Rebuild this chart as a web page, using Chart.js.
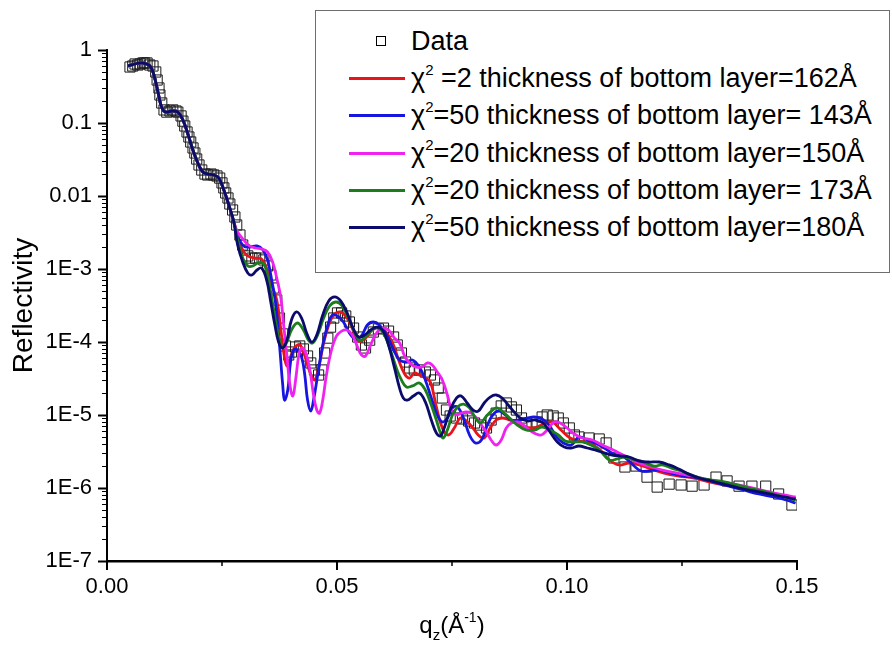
<!DOCTYPE html>
<html>
<head>
<meta charset="utf-8">
<title>Reflectivity</title>
<script src="https://cdn.jsdelivr.net/npm/chart.js@4.4.1/dist/chart.umd.min.js"></script>
<style>
  body { margin: 0; background: #fff; }
  #wrap { position: relative; width: 892px; height: 648px; font-family: Arial, "Liberation Sans", sans-serif; color: #000; }
  #chart { position: absolute; left: 0; top: 0; }
  #legend { position: absolute; left: 315px; top: 10px; width: 573px; height: 261px; border: 1.5px solid #6e6e6e; background: #fff; }
  .row { position: absolute; left: 0; height: 30px; line-height: 30px; font-size: 27px; white-space: nowrap; }
  .sample { position: absolute; left: 33px; top: 14px; width: 56px; height: 0; border-top: 3px solid #000; }
  .box { position: absolute; left: 60px; top: 10px; width: 8px; height: 8px; border: 1px solid #000; }
  .label { position: absolute; left: 95px; top: 0; }
  .label sup { font-size: 15px; vertical-align: 0; position: relative; top: -12px; }
  #xTitle { position: absolute; left: 107px; width: 690px; top: 611px; text-align: center; font-size: 24px; }
  #xTitle sub { font-size: 15px; vertical-align: 0; position: relative; top: 7px; }
  #xTitle sup { font-size: 14px; vertical-align: 0; position: relative; top: -11px; }
</style>
</head>
<body>
<div id="wrap">
  <canvas id="chart" width="892" height="648"></canvas>
  <div id="legend"></div>
  <div id="xTitle">q<sub>z</sub>(Å<sup>-1</sup>)</div>
</div>
<script>
// measured reflectivity
const dataQ = [0.0050, 0.0056, 0.0061, 0.0067, 0.0072, 0.0078, 0.0082, 0.0087, 0.0093, 0.0100, 0.0106, 0.0109, 0.0113, 0.0115, 0.0119, 0.0124, 0.0130, 0.0137, 0.0143, 0.0150, 0.0154, 0.0161, 0.0165, 0.0169, 0.0174, 0.0178, 0.0182, 0.0187, 0.0191, 0.0195, 0.0200, 0.0206, 0.0213, 0.0219, 0.0226, 0.0232, 0.0239, 0.0245, 0.0250, 0.0254, 0.0258, 0.0263, 0.0267, 0.0273, 0.0278, 0.0282, 0.0289, 0.0295, 0.0299, 0.0306, 0.0315, 0.0323, 0.0332, 0.0341, 0.0349, 0.0356, 0.0362, 0.0369, 0.0375, 0.0382, 0.0388, 0.0395, 0.0401, 0.0410, 0.0419, 0.0427, 0.0436, 0.0443, 0.0451, 0.0460, 0.0467, 0.0473, 0.0480, 0.0486, 0.0493, 0.0501, 0.0510, 0.0519, 0.0527, 0.0536, 0.0545, 0.0553, 0.0562, 0.0571, 0.0579, 0.0590, 0.0601, 0.0612, 0.0623, 0.0631, 0.0640, 0.0649, 0.0658, 0.0668, 0.0679, 0.0692, 0.0703, 0.0712, 0.0720, 0.0729, 0.0738, 0.0746, 0.0760, 0.0773, 0.0786, 0.0799, 0.0812, 0.0825, 0.0835, 0.0846, 0.0857, 0.0868, 0.0879, 0.0890, 0.0901, 0.0911, 0.0924, 0.0935, 0.0946, 0.0957, 0.0970, 0.0981, 0.0992, 0.1005, 0.1016, 0.1026, 0.1048, 0.1070, 0.1085, 0.1102, 0.1126, 0.1150, 0.1174, 0.1196, 0.1222, 0.1248, 0.1272, 0.1298, 0.1324, 0.1348, 0.1374, 0.1402, 0.1432, 0.1460, 0.1489];
const dataR = [0.585, 0.604, 0.643, 0.623, 0.643, 0.664, 0.664, 0.664, 0.623, 0.604, 0.500, 0.388, 0.302, 0.242, 0.188, 0.151, 0.141, 0.146, 0.151, 0.146, 0.141, 0.125, 0.106, 0.0910, 0.0753, 0.0643, 0.0549, 0.0455, 0.0388, 0.0321, 0.0266, 0.0227, 0.0200, 0.0194, 0.0200, 0.0194, 0.0188, 0.0176, 0.0151, 0.0129, 0.0110, 0.00939, 0.00777, 0.00643, 0.00516, 0.00401, 0.00292, 0.00213, 0.00182, 0.00151, 0.00141, 0.00141, 0.00141, 0.00133, 0.00110, 8.28e-4, 5.49e-4, 3.76e-4, 2.13e-4, 1.29e-4, 8.82e-5, 6.64e-5, 7.29e-5, 8.54e-5, 8.82e-5, 8.02e-5, 6.43e-5, 5.16e-5, 4.14e-5, 3.53e-5, 4.14e-5, 7.07e-5, 1.13e-4, 1.60e-4, 2.13e-4, 2.50e-4, 2.50e-4, 2.27e-4, 1.88e-4, 1.55e-4, 1.17e-4, 9.10e-5, 8.28e-5, 1.06e-4, 1.37e-4, 1.51e-4, 1.55e-4, 1.41e-4, 1.17e-4, 9.10e-5, 7.07e-5, 5.32e-5, 4.41e-5, 4.14e-5, 4.14e-5, 3.88e-5, 3.53e-5, 3.02e-5, 2.34e-5, 1.71e-5, 1.17e-5, 9.69e-6, 9.10e-6, 8.82e-6, 8.28e-6, 7.77e-6, 7.29e-6, 6.64e-6, 8.54e-6, 1.06e-5, 1.33e-5, 1.46e-5, 1.29e-5, 1.17e-5, 9.10e-6, 7.77e-6, 7.29e-6, 8.02e-6, 9.39e-6, 1.00e-5, 9.69e-6, 9.10e-6, 7.77e-6, 6.64e-6, 5.32e-6, 5.00e-6, 4.84e-6, 4.69e-6, 4.14e-6, 2.58e-6, 1.94e-6, 2.00e-6, 1.41e-6, 1.03e-6, 1.13e-6, 1.10e-6, 1.06e-6, 1.10e-6, 1.41e-6, 1.25e-6, 1.06e-6, 1.06e-6, 1.06e-6, 8.28e-7, 5.85e-7];

// below the critical edge all fits coincide
const fitLowQ = [0.00456, 0.00608, 0.00760, 0.00933, 0.01020, 0.01107, 0.01194, 0.01281, 0.01411, 0.01541, 0.01650, 0.01758, 0.01867, 0.01975, 0.02084, 0.02193, 0.02323, 0.02431, 0.02540, 0.02648, 0.02757];
const fitLowR = [0.604, 0.643, 0.664, 0.604, 0.455, 0.266, 0.160, 0.141, 0.146, 0.141, 0.110, 0.0707, 0.0427, 0.0283, 0.0213, 0.0200, 0.0194, 0.0176, 0.0121, 0.00753, 0.00441];

// fit, bottom layer 162 A
const fit162Q = [0.0284, 0.0295, 0.0306, 0.0321, 0.0336, 0.0347, 0.0358, 0.0369, 0.0378, 0.0384, 0.0391, 0.0397, 0.0406, 0.0419, 0.0430, 0.0441, 0.0451, 0.0460, 0.0471, 0.0482, 0.0493, 0.0506, 0.0519, 0.0532, 0.0547, 0.0562, 0.0577, 0.0592, 0.0605, 0.0621, 0.0634, 0.0647, 0.0658, 0.0668, 0.0679, 0.0692, 0.0703, 0.0716, 0.0729, 0.0742, 0.0755, 0.0768, 0.0781, 0.0794, 0.0807, 0.0820, 0.0833, 0.0846, 0.0859, 0.0875, 0.0896, 0.0924, 0.0950, 0.0968, 0.0987, 0.1007, 0.1026, 0.1048, 0.1070, 0.1092, 0.1113, 0.1135, 0.1157, 0.1183, 0.1211, 0.1243, 0.1276, 0.1309, 0.1341, 0.1374, 0.1406, 0.1439, 0.1471, 0.1497];
const fit162R = [2.83e-3, 1.82e-3, 1.51e-3, 1.41e-3, 1.37e-3, 1.03e-3, 6.04e-4, 3.76e-4, 1.46e-4, 7.29e-5, 4.69e-5, 5.67e-5, 8.02e-5, 9.10e-5, 6.43e-5, 3.88e-5, 3.02e-5, 4.41e-5, 9.69e-5, 1.71e-4, 2.34e-4, 2.58e-4, 2.27e-4, 1.60e-4, 1.03e-4, 1.13e-4, 1.46e-4, 1.60e-4, 1.41e-4, 9.69e-5, 5.67e-5, 3.65e-5, 3.21e-5, 3.76e-5, 3.53e-5, 3.21e-5, 2.83e-5, 1.29e-5, 6.64e-6, 5.32e-6, 6.64e-6, 9.10e-6, 8.28e-6, 6.85e-6, 5.32e-6, 4.84e-6, 6.64e-6, 8.54e-6, 9.10e-6, 8.54e-6, 7.53e-6, 6.64e-6, 7.53e-6, 8.02e-6, 6.23e-6, 4.84e-6, 4.41e-6, 4.14e-6, 3.42e-6, 2.42e-6, 2.07e-6, 2.20e-6, 2.07e-6, 1.82e-6, 1.60e-6, 1.46e-6, 1.37e-6, 1.21e-6, 1.10e-6, 1.03e-6, 9.39e-7, 8.54e-7, 7.77e-7, 7.29e-7];

// fit, bottom layer 143 A
const fit143Q = [0.0284, 0.0297, 0.0310, 0.0326, 0.0339, 0.0349, 0.0358, 0.0367, 0.0375, 0.0382, 0.0386, 0.0393, 0.0399, 0.0406, 0.0414, 0.0423, 0.0430, 0.0436, 0.0443, 0.0449, 0.0458, 0.0469, 0.0480, 0.0490, 0.0501, 0.0514, 0.0527, 0.0540, 0.0553, 0.0566, 0.0579, 0.0592, 0.0608, 0.0623, 0.0636, 0.0651, 0.0664, 0.0679, 0.0692, 0.0705, 0.0718, 0.0729, 0.0740, 0.0751, 0.0762, 0.0775, 0.0788, 0.0801, 0.0814, 0.0827, 0.0840, 0.0853, 0.0866, 0.0879, 0.0896, 0.0914, 0.0929, 0.0946, 0.0961, 0.0977, 0.0992, 0.1009, 0.1026, 0.1044, 0.1061, 0.1081, 0.1102, 0.1124, 0.1146, 0.1161, 0.1178, 0.1200, 0.1226, 0.1254, 0.1287, 0.1319, 0.1352, 0.1384, 0.1417, 0.1450, 0.1476, 0.1497];
const fit143R = [2.83e-3, 2.07e-3, 2.00e-3, 2.07e-3, 1.82e-3, 1.33e-3, 7.07e-4, 3.21e-4, 9.10e-5, 2.58e-5, 1.60e-5, 2.20e-5, 5.32e-5, 7.77e-5, 7.77e-5, 6.23e-5, 3.53e-5, 1.60e-5, 1.13e-5, 1.60e-5, 3.53e-5, 9.10e-5, 1.71e-4, 2.34e-4, 2.27e-4, 1.88e-4, 1.33e-4, 1.10e-4, 1.21e-4, 1.71e-4, 1.88e-4, 1.71e-4, 1.25e-4, 7.77e-5, 5.67e-5, 5.32e-5, 5.67e-5, 4.55e-5, 3.02e-5, 1.71e-5, 1.00e-5, 8.02e-6, 9.10e-6, 1.25e-5, 1.29e-5, 9.10e-6, 5.32e-6, 4.14e-6, 4.55e-6, 7.29e-6, 1.03e-5, 1.13e-5, 1.00e-5, 8.54e-6, 8.54e-6, 9.10e-6, 9.39e-6, 8.82e-6, 7.29e-6, 5.00e-6, 4.14e-6, 3.88e-6, 5.00e-6, 4.55e-6, 4.14e-6, 3.53e-6, 2.92e-6, 2.66e-6, 2.00e-6, 1.71e-6, 1.71e-6, 1.76e-6, 1.60e-6, 1.46e-6, 1.37e-6, 1.21e-6, 1.06e-6, 9.39e-7, 8.28e-7, 7.53e-7, 6.85e-7, 6.23e-7];

// fit, bottom layer 150 A
const fit150Q = [0.0284, 0.0297, 0.0310, 0.0323, 0.0336, 0.0349, 0.0360, 0.0369, 0.0378, 0.0384, 0.0391, 0.0397, 0.0404, 0.0410, 0.0417, 0.0423, 0.0432, 0.0441, 0.0449, 0.0456, 0.0462, 0.0469, 0.0477, 0.0488, 0.0499, 0.0510, 0.0521, 0.0532, 0.0543, 0.0553, 0.0562, 0.0573, 0.0586, 0.0599, 0.0612, 0.0625, 0.0636, 0.0647, 0.0658, 0.0671, 0.0684, 0.0697, 0.0707, 0.0718, 0.0729, 0.0740, 0.0749, 0.0760, 0.0770, 0.0781, 0.0792, 0.0803, 0.0814, 0.0825, 0.0835, 0.0846, 0.0857, 0.0868, 0.0879, 0.0892, 0.0905, 0.0918, 0.0933, 0.0944, 0.0957, 0.0972, 0.0985, 0.1000, 0.1016, 0.1033, 0.1055, 0.1076, 0.1096, 0.1113, 0.1135, 0.1157, 0.1178, 0.1207, 0.1239, 0.1272, 0.1309, 0.1352, 0.1395, 0.1439, 0.1471, 0.1497];
const fit150R = [3.21e-3, 2.50e-3, 2.07e-3, 1.94e-3, 1.88e-3, 1.71e-3, 1.25e-3, 7.53e-4, 4.01e-4, 1.71e-4, 6.64e-5, 2.74e-5, 1.82e-5, 3.02e-5, 6.64e-5, 8.28e-5, 7.07e-5, 4.14e-5, 1.88e-5, 1.17e-5, 1.06e-5, 1.60e-5, 3.53e-5, 7.77e-5, 1.21e-4, 1.41e-4, 1.46e-4, 1.29e-4, 9.10e-5, 6.64e-5, 6.43e-5, 9.10e-5, 1.33e-4, 1.55e-4, 1.46e-4, 1.13e-4, 9.69e-5, 6.43e-5, 5.16e-5, 4.55e-5, 4.55e-5, 5.16e-5, 4.84e-5, 3.88e-5, 3.02e-5, 1.88e-5, 1.17e-5, 1.00e-5, 1.06e-5, 1.10e-5, 1.06e-5, 9.10e-6, 7.29e-6, 5.85e-6, 4.55e-6, 3.88e-6, 4.55e-6, 6.64e-6, 7.77e-6, 8.02e-6, 7.29e-6, 6.23e-6, 5.49e-6, 5.32e-6, 6.23e-6, 8.02e-6, 7.77e-6, 6.64e-6, 5.49e-6, 4.84e-6, 4.55e-6, 3.88e-6, 3.42e-6, 3.02e-6, 2.58e-6, 2.20e-6, 2.00e-6, 1.76e-6, 1.60e-6, 1.46e-6, 1.29e-6, 1.17e-6, 1.03e-6, 8.82e-7, 8.02e-7, 7.53e-7];

// fit, bottom layer 173 A
const fit173Q = [0.0284, 0.0295, 0.0306, 0.0317, 0.0328, 0.0339, 0.0349, 0.0358, 0.0367, 0.0375, 0.0382, 0.0391, 0.0401, 0.0414, 0.0427, 0.0438, 0.0447, 0.0458, 0.0471, 0.0484, 0.0497, 0.0510, 0.0525, 0.0538, 0.0549, 0.0562, 0.0575, 0.0590, 0.0603, 0.0616, 0.0629, 0.0640, 0.0651, 0.0664, 0.0679, 0.0692, 0.0705, 0.0716, 0.0725, 0.0731, 0.0740, 0.0751, 0.0762, 0.0775, 0.0788, 0.0801, 0.0812, 0.0825, 0.0838, 0.0848, 0.0861, 0.0875, 0.0892, 0.0911, 0.0929, 0.0946, 0.0963, 0.0981, 0.0996, 0.1013, 0.1033, 0.1052, 0.1070, 0.1092, 0.1109, 0.1124, 0.1139, 0.1161, 0.1189, 0.1207, 0.1226, 0.1248, 0.1269, 0.1298, 0.1330, 0.1363, 0.1395, 0.1432, 0.1465, 0.1497];
const fit173R = [2.50e-3, 1.41e-3, 1.10e-3, 1.10e-3, 1.21e-3, 1.21e-3, 8.28e-4, 4.01e-4, 1.88e-4, 1.06e-4, 8.54e-5, 1.00e-4, 1.46e-4, 1.82e-4, 1.46e-4, 1.06e-4, 9.69e-5, 1.25e-4, 2.13e-4, 3.11e-4, 3.53e-4, 3.21e-4, 2.13e-4, 1.37e-4, 1.06e-4, 1.17e-4, 1.46e-4, 1.55e-4, 1.25e-4, 7.77e-5, 4.41e-5, 3.02e-5, 2.42e-5, 2.50e-5, 2.74e-5, 2.20e-5, 1.37e-5, 8.54e-6, 5.67e-6, 4.84e-6, 6.23e-6, 1.00e-5, 1.29e-5, 1.41e-5, 1.25e-5, 9.10e-6, 7.77e-6, 9.69e-6, 1.17e-5, 1.25e-5, 1.10e-5, 9.10e-6, 7.29e-6, 6.23e-6, 6.23e-6, 6.85e-6, 6.23e-6, 5.32e-6, 4.41e-6, 4.27e-6, 4.27e-6, 3.88e-6, 3.32e-6, 2.42e-6, 2.50e-6, 2.66e-6, 2.50e-6, 2.34e-6, 2.00e-6, 2.07e-6, 1.88e-6, 1.71e-6, 1.51e-6, 1.33e-6, 1.25e-6, 1.13e-6, 1.00e-6, 8.82e-7, 7.77e-7, 6.85e-7];

// fit, bottom layer 180 A
const fit180Q = [0.0284, 0.0295, 0.0306, 0.0315, 0.0326, 0.0336, 0.0347, 0.0356, 0.0365, 0.0373, 0.0382, 0.0391, 0.0401, 0.0412, 0.0423, 0.0434, 0.0445, 0.0456, 0.0469, 0.0482, 0.0495, 0.0508, 0.0521, 0.0534, 0.0547, 0.0560, 0.0573, 0.0586, 0.0599, 0.0612, 0.0625, 0.0636, 0.0644, 0.0653, 0.0666, 0.0679, 0.0692, 0.0705, 0.0716, 0.0725, 0.0733, 0.0746, 0.0760, 0.0770, 0.0783, 0.0796, 0.0807, 0.0820, 0.0833, 0.0846, 0.0859, 0.0872, 0.0885, 0.0898, 0.0914, 0.0931, 0.0948, 0.0963, 0.0979, 0.0994, 0.1009, 0.1026, 0.1044, 0.1061, 0.1081, 0.1098, 0.1118, 0.1135, 0.1157, 0.1178, 0.1200, 0.1222, 0.1243, 0.1265, 0.1287, 0.1313, 0.1341, 0.1374, 0.1406, 0.1439, 0.1471, 0.1497];
const fit180R = [2.13e-3, 1.25e-3, 8.82e-4, 8.28e-4, 9.69e-4, 1.03e-3, 7.07e-4, 3.53e-4, 1.71e-4, 1.00e-4, 8.28e-5, 1.06e-4, 2.00e-4, 2.58e-4, 2.13e-4, 1.33e-4, 1.00e-4, 1.25e-4, 2.34e-4, 3.65e-4, 4.14e-4, 3.65e-4, 2.58e-4, 1.60e-4, 1.17e-4, 1.25e-4, 1.46e-4, 1.60e-4, 1.46e-4, 9.10e-5, 4.41e-5, 2.34e-5, 1.71e-5, 1.60e-5, 1.82e-5, 2.00e-5, 1.51e-5, 8.54e-6, 5.67e-6, 5.16e-6, 6.64e-6, 1.17e-5, 1.71e-5, 1.82e-5, 1.46e-5, 1.17e-5, 1.13e-5, 1.46e-5, 1.76e-5, 1.88e-5, 1.71e-5, 1.37e-5, 1.10e-5, 9.10e-6, 8.28e-6, 8.54e-6, 7.77e-6, 5.85e-6, 4.27e-6, 3.65e-6, 3.53e-6, 3.76e-6, 3.53e-6, 3.32e-6, 3.02e-6, 2.83e-6, 2.74e-6, 2.66e-6, 2.34e-6, 2.27e-6, 2.27e-6, 2.07e-6, 1.82e-6, 1.55e-6, 1.37e-6, 1.25e-6, 1.13e-6, 1.00e-6, 9.10e-7, 8.28e-7, 7.53e-7, 7.07e-7];

const legendLabels = [
  'Data',
  'χ<sup>2</sup> =2 thickness of bottom layer=162Å',
  'χ<sup>2</sup>=50 thickness of bottom layer= 143Å',
  'χ<sup>2</sup>=20 thickness of bottom layer=150Å',
  'χ<sup>2</sup>=20 thickness of bottom layer= 173Å',
  'χ<sup>2</sup>=50 thickness of bottom layer=180Å'
];
const fitColors = ['#e8141a', '#1616e0', '#f022f0', '#1b7d1b', '#0b0b6c'];

const xTicks = [0, 0.05, 0.10, 0.15];
const xMinorTicks = [0.025, 0.075, 0.125];
const yTicks = [1e-7, 1e-6, 1e-5, 1e-4, 1e-3, 1e-2, 1e-1, 1];
const yTickLabels = ['1E-7', '1E-6', '1E-5', '1E-4', '1E-3', '0.01', '0.1', '1'];

const FONT = 'Arial, "Liberation Sans", sans-serif';

function toPoints(qs, rs) {
  return qs.map((q, i) => ({ x: q, y: rs[i] }));
}

const fits = [
  [fit162Q, fit162R],
  [fit143Q, fit143R],
  [fit150Q, fit150R],
  [fit173Q, fit173R],
  [fit180Q, fit180R]
];

const datasets = [{
  label: 'Data',
  data: toPoints(dataQ, dataR),
  showLine: false,
  pointStyle: 'rect',
  pointRadius: 7.2,
  borderColor: '#1a1a1a',
  borderWidth: 1,
  backgroundColor: 'rgba(0,0,0,0)',
  order: 10
}];
fits.forEach(([qs, rs], i) => {
  datasets.push({
    label: legendLabels[i + 1].replace('<sup>2</sup>', '²'),
    data: toPoints(fitLowQ.concat(qs), fitLowR.concat(rs)),
    showLine: true,
    pointRadius: 0,
    borderColor: fitColors[i],
    borderWidth: 2.8,
    tension: 0.4,
    order: 5 - i
  });
});

// outward tick marks: long on decades / labelled values, short in between
const axisTicks = {
  id: 'axisTicks',
  afterDraw(chart) {
    const { ctx, chartArea: area, scales: { x, y } } = chart;
    ctx.save();
    ctx.strokeStyle = '#000';
    const mark = (x0, y0, x1, y1, w) => {
      ctx.lineWidth = w;
      ctx.beginPath();
      ctx.moveTo(x0, y0);
      ctx.lineTo(x1, y1);
      ctx.stroke();
    };
    xTicks.forEach(v => {
      const p = Math.round(x.getPixelForValue(v));
      mark(p, area.bottom, p, area.bottom + 9, 2);
    });
    xMinorTicks.forEach(v => {
      const p = Math.round(x.getPixelForValue(v));
      mark(p, area.bottom, p, area.bottom + 5, 1.5);
    });
    yTicks.forEach(v => {
      const p = Math.round(y.getPixelForValue(v)) + 0.5;
      mark(area.left - 9, p, area.left, p, 2);
    });
    for (let e = -7; e < 0; e++) {
      for (let m = 2; m <= 9; m++) {
        const p = Math.round(y.getPixelForValue(m * Math.pow(10, e))) + 0.5;
        mark(area.left - 5, p, area.left, p, 1);
      }
    }
    ctx.restore();
  }
};

new Chart(document.getElementById('chart'), {
  type: 'scatter',
  data: { datasets },
  options: {
    responsive: false,
    animation: false,
    devicePixelRatio: 1,
    layout: { padding: { left: 0, top: 50, right: 95, bottom: 0 } },
    plugins: { legend: { display: false }, tooltip: { enabled: false } },
    scales: {
      x: {
        type: 'linear',
        min: 0,
        max: 0.15,
        afterBuildTicks: s => { s.ticks = xTicks.map(v => ({ value: v })); },
        afterFit: s => { s.height = 87; },
        grid: { display: false, drawTicks: false },
        border: { display: true, color: '#000', width: 2.5 },
        ticks: {
          padding: 13,
          color: '#000',
          font: { family: FONT, size: 22 },
          maxRotation: 0,
          autoSkip: false,
          callback: v => v.toFixed(2)
        }
      },
      y: {
        type: 'logarithmic',
        min: 1e-7,
        max: 1,
        afterBuildTicks: s => { s.ticks = yTicks.map(v => ({ value: v })); },
        afterFit: s => { s.width = 107; },
        grid: { display: false, drawTicks: false },
        border: { display: true, color: '#000', width: 2 },
        title: {
          display: true,
          text: 'Reflectivity',
          color: '#000',
          font: { family: FONT, size: 28 },
          padding: { top: 7, bottom: 0 }
        },
        ticks: {
          padding: 15,
          color: '#000',
          font: { family: FONT, size: 22 },
          autoSkip: false,
          callback: (v, i) => yTickLabels[i]
        }
      }
    }
  },
  plugins: [axisTicks]
});

// legend box built from the datasets
const legend = document.getElementById('legend');
datasets.forEach((ds, i) => {
  const row = document.createElement('div');
  row.className = 'row';
  row.style.top = (15 + i * 37.2) + 'px';
  const mark = document.createElement('div');
  if (i === 0) {
    mark.className = 'box';
  } else {
    mark.className = 'sample';
    mark.style.borderTopColor = ds.borderColor;
  }
  const text = document.createElement('span');
  text.className = 'label';
  text.innerHTML = legendLabels[i];
  row.appendChild(mark);
  row.appendChild(text);
  legend.appendChild(row);
});
</script>
</body>
</html>
